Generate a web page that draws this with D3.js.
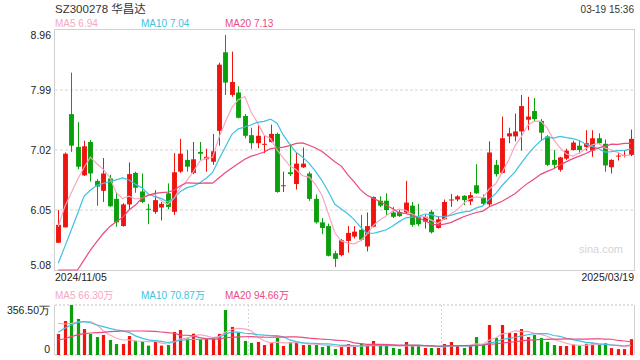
<!DOCTYPE html>
<html><head><meta charset="utf-8">
<script src="https://cdn.jsdelivr.net/npm/d3@7"></script>
<style>body{margin:0;background:#fff;} svg{display:block;font-family:Arial,"Liberation Sans","Noto Sans CJK SC",sans-serif;}</style>
</head><body><svg id="c" width="640" height="360"></svg>
<script>
const title = "SZ300278 华昌达";
const timeLabel = "03-19 15:36";
const dateLabels = ["2024/11/05", "2025/03/19"];
const opens  = [5.52,5.77,7.60,7.07,6.61,7.15,6.52,6.36,6.56,6.23, 5.79,6.14,6.65,6.35,6.07,6.02,6.09,6.32,6.02,6.67, 6.86,6.65,6.99,6.87,6.83,7.33,8.60,7.91,7.95,7.57, 7.26,7.13,7.11,7.15,7.28,6.44,6.66,6.47,6.74,6.64, 6.23,5.85,5.79,5.35,5.32,5.55,5.62,5.73,5.46,5.78, 6.20,6.20,6.01,6.02,6.01,6.12,5.94,5.86,6.02,5.76, 5.90,6.21,6.22,6.28,6.19,6.45,6.25,6.14,6.78,6.65, 7.24,7.24,7.32,7.51,7.65,7.49,7.24,6.86,6.70,6.88, 7.02,7.09,7.07,7.01,7.21,7.12,6.74,6.92,6.93,6.94];
const highs  = [6.05,6.98,8.27,7.47,7.17,7.18,6.55,6.89,6.62,6.34, 6.16,6.82,6.67,6.64,6.15,6.37,6.18,6.48,6.97,7.20, 7.02,7.15,7.15,7.04,7.28,8.43,8.88,8.61,8.05,7.60, 7.38,7.42,7.26,7.43,7.30,6.67,7.11,6.98,7.06,6.67, 6.30,5.92,5.83,5.39,5.58,5.79,5.79,5.97,6.01,6.27, 6.27,6.32,6.10,6.06,6.52,6.18,6.15,5.97,6.05,5.95, 6.22,6.31,6.29,6.29,6.34,6.79,6.30,7.16,6.86,7.56, 7.38,7.61,7.91,7.88,7.86,7.52,7.26,7.02,6.91,7.04, 7.17,7.18,7.34,7.34,7.29,7.19,6.87,6.98,7.02,7.35];
const lows   = [5.52,5.77,6.99,6.71,6.60,6.51,6.12,6.18,6.10,5.78, 5.78,6.05,6.33,6.16,5.82,5.99,5.88,6.06,5.97,6.65, 6.67,6.63,6.86,6.67,6.78,7.09,7.91,7.88,7.53,7.21, 7.04,7.05,6.97,7.14,6.33,6.34,6.60,6.38,6.73,6.20, 5.83,5.66,5.30,5.13,5.30,5.36,5.59,5.55,5.38,5.77, 6.10,5.97,5.92,5.94,6.00,5.78,5.79,5.75,5.67,5.75, 5.89,6.10,6.19,6.13,6.13,6.31,6.12,6.10,6.59,6.64, 7.13,7.16,7.01,7.34,7.48,7.17,6.76,6.72,6.67,6.86, 7.01,6.96,7.01,6.91,7.11,6.67,6.64,6.85,6.90,6.92];
const closes = [5.81,6.96,7.09,6.75,7.08,6.64,6.43,6.64,6.11,5.85, 6.14,6.63,6.41,6.18,6.06,6.21,6.15,6.10,6.66,6.96, 6.75,6.87,6.96,6.91,7.00,8.40,8.11,8.12,7.54,7.25, 7.13,7.25,7.12,7.28,6.34,6.45,6.63,6.80,6.80,6.23, 5.85,5.76,5.31,5.26,5.56,5.68,5.70,5.57,5.79,6.26, 6.12,6.05,5.94,5.95,6.17,5.81,5.82,5.94,5.69,5.90, 6.18,6.22,6.27,6.21,6.29,6.32,6.15,6.98,6.63,7.21, 7.29,7.32,7.73,7.56,7.52,7.30,6.78,6.78,6.90,7.01, 7.14,7.02,7.13,7.21,7.13,6.77,6.86,6.93,6.94,7.20];
const volumes = [150,242,356.5,257,185,150,128,143,107,78, 78,135,102,93,67,95,67,71,164,178, 119,152,112,119,119,150,321,200,159,100, 86,93,71,86,121,64,93,86,71,71, 71,57,71,43,57,78,57,83,64,100, 64,71,50,43,93,71,64,50,50,50, 78,93,64,50,64,128,78,214,121,214, 157,157,185,128,143,121,93,71,64,64, 74,68,80,82,74,85,49,42,42,113];
// moving-average values before enough candles exist
const ma5Head  = [5.78,6.10,6.32,6.54];
const ma10Head = [5.19,5.45,5.72,5.99,6.27,6.37,6.45,6.48,6.51];
const ma20Head = [4.90,4.95,5.00,5.08,5.24,5.40,5.54,5.67,5.78,5.86,5.93,6.05,6.13,6.24,6.29,6.32,6.33,6.34,6.37];
const vma5Head  = [226,221,226,235];
const vma10Head = [162,190,214,233,238,230,214,202,190];
const vma20Head = [107,116,131,143,152,157,159,162,166,169,171,171,171,171,170,168,164,160,155];
const priceTicks = [5.08,6.05,7.02,7.99,8.96];
const volTicks = [0,356.5];
const maLegend = [["MA5","6.94"],["MA10","7.04"],["MA20","7.13"]];
const vmaLegend = [["MA5","66.30万"],["MA10","70.87万"],["MA20","94.66万"]];

const UP="#f0140f", DOWN="#09a00c";
const maColors=["#f8a6c2","#3ec2e0","#ea4a7e"];
const svg=d3.select("#c");
const L=55,R=634,PT=30,PB=270,VT=305,VB=355;
const n=closes.length;
const x=d3.scaleBand().domain(d3.range(n)).range([L,R]).paddingInner(0);
const cx=i=>x(i)+x.bandwidth()/2;
const y=d3.scaleLinear().domain([priceTicks[0],priceTicks[priceTicks.length-1]]).range([PB,PT]).clamp(true);
const yv=d3.scaleLinear().domain([volTicks[0],volTicks[1]]).range([VB,VT]).clamp(true);

function ma(arr,k,head){return arr.map((_,i)=> i<k-1 ? head[i] : d3.mean(arr.slice(i-k+1,i+1)));}

// Title & header
svg.append("text").attr("x",L).attr("y",13).attr("font-size",11.5).attr("fill","#333").text(title);
svg.append("text").attr("x",R).attr("y",13).attr("text-anchor","end").attr("font-size",10).attr("fill","#333").text(timeLabel);
const legX=[L,141,225];
maLegend.forEach((d,i)=>svg.append("text").attr("x",legX[i]).attr("y",27).attr("font-size",10).attr("fill",maColors[i]).text(d[0]+" "+d[1]));
vmaLegend.forEach((d,i)=>svg.append("text").attr("x",legX[i]).attr("y",299).attr("font-size",10).attr("fill",maColors[i]).text(d[0]+" "+d[1]));

// price grid
const g=svg.append("g");
priceTicks.slice(1,-1).forEach(t=>g.append("line").attr("x1",L).attr("x2",R).attr("y1",Math.round(y(t))).attr("y2",Math.round(y(t))).attr("stroke","#e3e3e3").attr("stroke-width",1.5).attr("stroke-dasharray","3,2"));
g.append("rect").attr("x",L-0.5).attr("y",PT-0.5).attr("width",R-L+1).attr("height",PB-PT+1).attr("fill","none").attr("stroke","#d0d0d0");

// price axis
const ay=svg.append("g").attr("transform",`translate(${L-3},0)`).call(d3.axisLeft(y).tickValues(priceTicks).tickSize(0).tickPadding(1).tickFormat(d3.format(".2f")));
ay.select(".domain").remove();
ay.selectAll("text").attr("font-size",10.5).attr("fill","#222").attr("font-family","Arial,'Liberation Sans',sans-serif");
ay.selectAll(".tick").filter(d=>d===priceTicks[priceTicks.length-1]).select("text").attr("dy","0.75em").attr("y",1);
ay.selectAll(".tick").filter(d=>d===priceTicks[0]).select("text").attr("dy","-0.1em");

// watermark
svg.append("text").attr("x",623).attr("y",253).attr("text-anchor","end").attr("font-size",11).attr("fill","#d4d4d4").text("sina.com");

// candles
const bw=Math.max(1,x.bandwidth()*0.76);
const cg=svg.append("g");
d3.range(n).forEach(i=>{
  const up=closes[i]>=opens[i]; const col=up?UP:DOWN;
  const xc=Math.round(cx(i))+0.5;
  cg.append("line").attr("x1",xc).attr("x2",xc).attr("y1",y(highs[i])).attr("y2",y(lows[i])).attr("stroke",col).attr("stroke-width",1);
  const top=y(Math.max(opens[i],closes[i])), bot=y(Math.min(opens[i],closes[i]));
  cg.append("rect").attr("x",xc-bw/2).attr("y",top).attr("width",bw).attr("height",Math.max(1,bot-top)).attr("fill",col);
});

// MA lines price
const line=d3.line().x((d,i)=>cx(i)).y(d=>y(d));
[ma(closes,5,ma5Head),ma(closes,10,ma10Head),ma(closes,20,ma20Head)].forEach((s,k)=>
  svg.append("path").attr("d",line(s)).attr("fill","none").attr("stroke",maColors[k]).attr("stroke-width",1.2));

// dates
svg.append("text").attr("x",L).attr("y",281).attr("font-size",10.5).attr("fill","#222").text(dateLabels[0]);
svg.append("text").attr("x",R).attr("y",281).attr("text-anchor","end").attr("font-size",10.5).attr("fill","#222").text(dateLabels[1]);

// volume panel grid
const vg=svg.append("g");
[VT,VB].forEach(yy=>vg.append("line").attr("x1",L).attr("x2",R).attr("y1",yy).attr("y2",yy).attr("stroke","#d6d6d6").attr("stroke-width",1.5).attr("stroke-dasharray","2,2"));
[L+(R-L)/3,L+2*(R-L)/3].forEach(xx=>vg.append("line").attr("x1",Math.round(xx)+0.5).attr("x2",Math.round(xx)+0.5).attr("y1",VT).attr("y2",VB).attr("stroke","#d6d6d6").attr("stroke-width",1).attr("stroke-dasharray","2,2"));
[L-0.5,R+0.5].forEach(xx=>vg.append("line").attr("x1",xx).attr("x2",xx).attr("y1",VT).attr("y2",VB).attr("stroke","#d0d0d0"));

const av=svg.append("g").attr("transform",`translate(${L-3},0)`).call(d3.axisLeft(yv).tickValues(volTicks).tickSize(0).tickPadding(2).tickFormat(d=>d===0?"0":d3.format(".2f")(d)+"万"));
av.select(".domain").remove();
av.selectAll("text").attr("font-size",10.5).attr("fill","#222");
av.selectAll(".tick").filter(d=>d===volTicks[1]).select("text").attr("dy","0.75em").attr("y",1);
av.selectAll(".tick").filter(d=>d===0).select("text").attr("dy","-0.2em");

// volume bars
const vbw=3.2;
d3.range(n).forEach(i=>{
  const up=closes[i]>=opens[i];
  svg.append("rect").attr("x",Math.round(cx(i))+0.5-vbw/2).attr("y",yv(volumes[i])).attr("width",vbw).attr("height",VB-yv(volumes[i])).attr("fill",up?UP:DOWN);
});
const vline=d3.line().x((d,i)=>cx(i)).y(d=>yv(d));
[ma(volumes,5,vma5Head),ma(volumes,10,vma10Head),ma(volumes,20,vma20Head)].forEach((s,k)=>
  svg.append("path").attr("d",vline(s)).attr("fill","none").attr("stroke",maColors[k]).attr("stroke-width",1.2));
</script></body></html>
